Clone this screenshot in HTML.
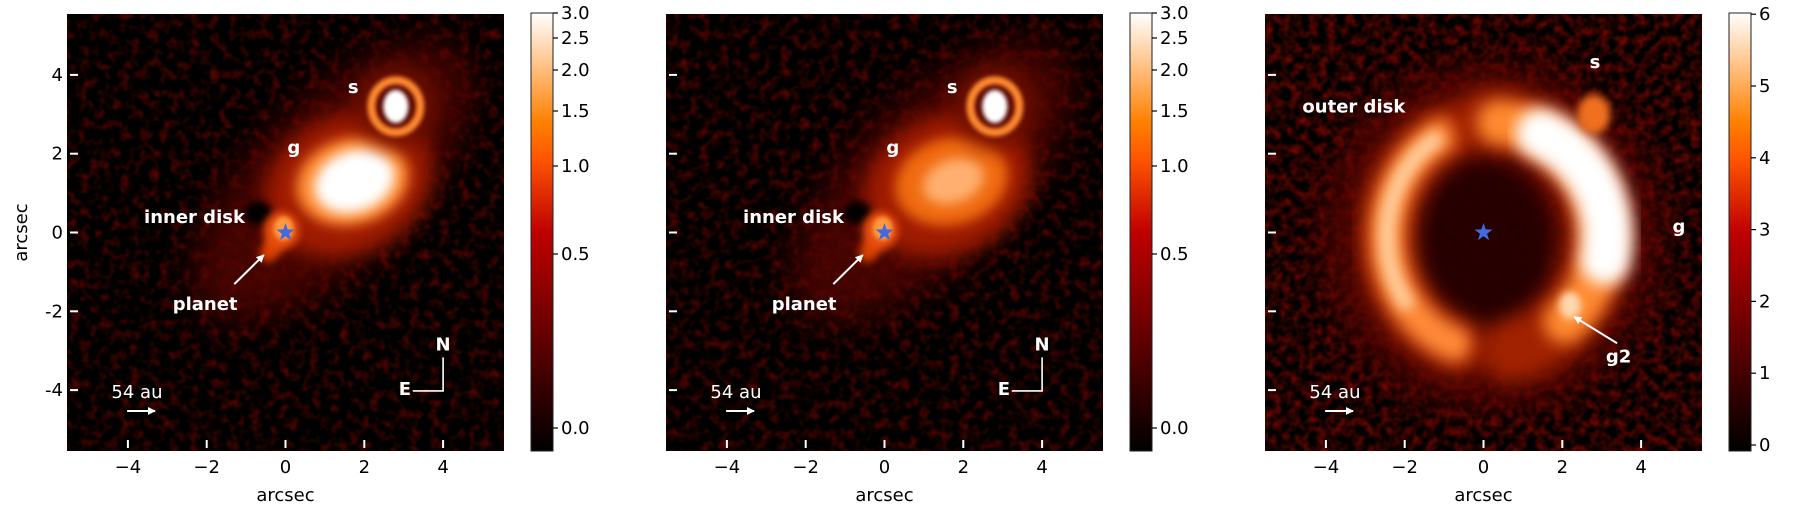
<!DOCTYPE html>
<html><head><meta charset="utf-8"><style>
html,body{margin:0;padding:0;background:#fff;}
svg{display:block;font-family:"DejaVu Sans","Liberation Sans",sans-serif;}
svg *{color-interpolation-filters:sRGB;}
</style></head><body>
<svg id="fig" width="1816" height="512" xmlns="http://www.w3.org/2000/svg">
<defs>
<linearGradient id="heat" x1="0" y1="1" x2="0" y2="0">
<stop offset="0" stop-color="#000"/><stop offset="0.333" stop-color="#800000"/><stop offset="0.5" stop-color="#bf0000"/><stop offset="0.667" stop-color="#ff5500"/><stop offset="0.75" stop-color="#ff8000"/><stop offset="0.833" stop-color="#ffaa55"/><stop offset="0.9" stop-color="#ffcc99"/><stop offset="1" stop-color="#fff"/>
</linearGradient>
<filter id="nz0" x="0" y="0" width="100%" height="100%" color-interpolation-filters="sRGB"><feTurbulence type="fractalNoise" baseFrequency="0.1" numOctaves="2" seed="3"/><feColorMatrix type="matrix" values="0.75 0 0 0 -0.34  0.03 0 0 0 -0.01  0 0 0 0 0  0 0 0 0 1"/></filter>
<filter id="nz1" x="0" y="0" width="100%" height="100%" color-interpolation-filters="sRGB"><feTurbulence type="fractalNoise" baseFrequency="0.1" numOctaves="2" seed="8"/><feColorMatrix type="matrix" values="0.75 0 0 0 -0.33  0.03 0 0 0 -0.01  0 0 0 0 0  0 0 0 0 1"/></filter>
<filter id="nz2" x="0" y="0" width="100%" height="100%" color-interpolation-filters="sRGB"><feTurbulence type="fractalNoise" baseFrequency="0.11" numOctaves="2" seed="5"/><feColorMatrix type="matrix" values="0.85 0 0 0 -0.3  0.04 0 0 0 -0.01  0 0 0 0 0  0 0 0 0 1"/></filter>
<filter id="b2" x="-50%" y="-50%" width="200%" height="200%"><feGaussianBlur stdDeviation="2"/></filter>
<filter id="b4" x="-50%" y="-50%" width="200%" height="200%"><feGaussianBlur stdDeviation="4"/></filter>
<filter id="b6" x="-50%" y="-50%" width="200%" height="200%"><feGaussianBlur stdDeviation="6"/></filter>
<filter id="b8" x="-50%" y="-50%" width="200%" height="200%"><feGaussianBlur stdDeviation="8"/></filter>
<filter id="b10" x="-50%" y="-50%" width="200%" height="200%"><feGaussianBlur stdDeviation="10"/></filter>
<filter id="b18" x="-50%" y="-50%" width="200%" height="200%"><feGaussianBlur stdDeviation="18"/></filter>
<clipPath id="c0"><rect x="67" y="14" width="437" height="437"/></clipPath>
<clipPath id="c1"><rect x="666" y="14" width="437" height="437"/></clipPath>
<clipPath id="c2"><rect x="1265" y="14" width="437" height="437"/></clipPath>
<marker id="ah" viewBox="0 0 10 10" refX="9" refY="5" markerWidth="4" markerHeight="4" orient="auto"><path d="M0,0 L10,5 L0,10 z" fill="#fff"/></marker>
</defs>
</svg>
<script>
const NS='http://www.w3.org/2000/svg';
const svg=document.getElementById('fig');
const xTicks=[-4,-2,0,2,4];
const yTicks=[4,2,0,-2,-4];
const yTickLabels=['4','2','0','-2','-4'];
const xTickLabels=['\u22124','\u22122','0','2','4'];
const cb1Vals=['3.0','2.5','2.0','1.5','1.0','0.5','0.0'];
const cb1Pix=[13,38,70,111,166,254,428];
const cb3Vals=[6,5,4,3,2,1,0];
const panelLeft=[67,666,1265];
const PT=14, PB=451, PW=437, S=39.4;
function X(p,x){return panelLeft[p]+218.5+S*x;}
function Y(y){return 232.5-S*y;}
function mk(tag,attrs,parent){const e=document.createElementNS(NS,tag);for(const k in attrs)e.setAttribute(k,attrs[k]);(parent||svg).appendChild(e);return e;}
function ell(p,g,cx,cy,rx,ry,rot,fill,filt,op){const e=mk('ellipse',{cx:X(p,cx),cy:Y(cy),rx:rx*S,ry:ry*S,fill:fill,opacity:op==null?1:op,transform:'rotate('+rot+' '+X(p,cx)+' '+Y(cy)+')'},g);if(filt)e.setAttribute('filter','url(#'+filt+')');return e;}
function arcPts(p,cx,cy,rx,ry,a0,a1){let s=[];const n=60;for(let i=0;i<=n;i++){const a=(a0+(a1-a0)*i/n)*Math.PI/180;s.push(X(p,cx+rx*Math.cos(a)).toFixed(1)+','+Y(cy+ry*Math.sin(a)).toFixed(1));}return s.join(' ');}
function arc(p,g,cx,cy,rx,ry,a0,a1,col,w,filt,op){const e=mk('polyline',{points:arcPts(p,cx,cy,rx,ry,a0,a1),fill:'none',stroke:col,'stroke-width':w,'stroke-linecap':'round',opacity:op==null?1:op},g);if(filt)e.setAttribute('filter','url(#'+filt+')');return e;}
function txt(x,y,s,attrs,parent){const e=mk('text',Object.assign({x:x,y:y,fill:'#fff','font-size':'17'},attrs),parent);e.textContent=s;return e;}
function star(p,g){let pts=[];for(let i=0;i<10;i++){const r=i%2?3.8:9.5;const a=-Math.PI/2+i*Math.PI/5;pts.push((X(p,0)+r*Math.cos(a)).toFixed(1)+','+(Y(0)+r*Math.sin(a)).toFixed(1));}const e=mk('polygon',{points:pts.join(' '),fill:'#4169e1'},g);return e;}

for(let p=0;p<3;p++){
  const g=mk('g',{'clip-path':'url(#c'+p+')'});
  
  
  const bg=mk('rect',{x:panelLeft[p],y:PT,width:PW,height:PB-PT,fill:'#000',filter:'url(#nz'+p+')'},g);
  
  
  if(p<2){
    const bright=p===0;
    const glow=ell(p,g,1.2,1.3,4.6,2.0,-45,'#5a0500','b18',0.75);
    
    
    const gh=ell(p,g,1.6,1.2,2.2,1.75,-25,'#b02000','b10',0.85);
    
    
    const gm=ell(p,g,1.7,1.3,1.45,1.1,-15,bright?'#ff8a30':'#f06a10','b6');
    
    
    const gc=ell(p,g,1.75,1.3,bright?1.05:0.8,bright?0.78:0.55,-20,bright?'#ffffff':'#ffb070','b6');
    
    
    const sh=ell(p,g,2.8,3.2,1.05,1.05,0,'#701000','b10',0.9);
    
    
    const sin=ell(p,g,2.8,3.2,0.5,0.55,0,'#5a0800','b2');
    
    
    const sr=mk('ellipse',{cx:X(p,2.8),cy:Y(3.2),rx:0.62*S,ry:0.66*S,fill:'none',stroke:'#ff8a30','stroke-width':8,filter:'url(#b2)'},g);
    
    
    const sc=ell(p,g,2.8,3.2,0.32,0.42,0,'#ffffff','b2');
    
    
    const dk=ell(p,g,-0.7,0.5,0.35,0.3,0,'#000','b4');
    
    
    const it=ell(p,g,-0.35,-0.4,0.25,0.38,30,'#d84000','b4');
    
    
    const id=ell(p,g,-0.1,0.05,0.45,0.48,0,'#e85010','b4');
    
    
    const ic=ell(p,g,-0.05,0.1,0.25,0.3,0,'#ff9a40','b2');
    
    
  } else {
    const og=ell(p,g,0.2,-0.1,4.3,4.4,0,'#5a0500','b18',0.8);
    
    
    const cav=ell(p,g,0.0,-0.35,1.75,2.2,0,'#200000','b10',0.85);
    
    
    const lg=arc(p,g,0.15,-0.1,2.6,2.9,116,252,'#b02800',56,'b10',0.9);
    
    
    const la=arc(p,g,0.15,-0.1,2.6,2.9,118,250,'#ff8a38',34,'b8');
    
    
    const li=arc(p,g,0.15,-0.1,2.6,2.9,122,215,'#ffd0a0',16,'b6');
    
    
    const rg=arc(p,g,0.15,-0.1,2.75,2.95,92,-78,'#b02800',64,'b10',0.85);
    
    
    const ra=arc(p,g,0.2,-0.1,2.8,2.9,86,-48,'#ff8a30',44,'b8');
    
    
    const rw=arc(p,g,0.3,-0.1,2.85,2.85,66,-12,'#ffffff',50,'b8');
    
    
    const g2=ell(p,g,2.2,-1.85,0.28,0.35,0,'#ffd8b0','b4');
    
    
    const sb=ell(p,g,2.8,3.0,0.42,0.5,0,'#f07020','b4');
    
    
  }
  const st=star(p,g);
  
  
  xTicks.forEach((v,i)=>{
    const t=mk('line',{x1:X(p,v),x2:X(p,v),y1:PB-11,y2:PB-3,stroke:'#fff','stroke-width':2});
    
    
    const l=txt(X(p,v),473,xTickLabels[i],{fill:'#000','text-anchor':'middle','font-size':'18'});
    
    
  });
  yTicks.forEach((v,i)=>{
    const t=mk('line',{x1:panelLeft[p]+3,x2:panelLeft[p]+11,y1:Y(v),y2:Y(v),stroke:'#fff','stroke-width':2});
    
    
    if(p===0){
      const l=txt(panelLeft[p]-4,Y(v)+6,yTickLabels[i],{fill:'#000','text-anchor':'end','font-size':'18'});
      
      
    }
  });
  const xl=txt(panelLeft[p]+218.5,501,'arcsec',{fill:'#000','text-anchor':'middle','font-size':'18'});
  
  
  const sbt=txt(X(p,-3.77),398,'54 au',{'text-anchor':'middle','font-size':'18'});
  
  
  const sba=mk('line',{x1:X(p,-4.02),x2:X(p,-3.31),y1:Y(-4.53),y2:Y(-4.53),stroke:'#fff','stroke-width':2,'marker-end':'url(#ah)'});
  
  
  const cx=panelLeft[p]+464;
  const cb=mk('rect',{x:cx,y:13,width:22,height:438,fill:'url(#heat)',stroke:'#222','stroke-width':1});
  
  
  const vals=p<2?cb1Vals:cb3Vals;
  vals.forEach((v,i)=>{
    const yy=p<2?cb1Pix[i]:445-71.8*v;
    const t=mk('line',{x1:cx+22,x2:cx+27,y1:yy,y2:yy,stroke:'#000','stroke-width':1.2});
    
    
    const l=txt(cx+30,yy+6,String(v),{fill:'#000','font-size':'18'});
    
    
  });
}
const yl=txt(0,0,'arcsec',{fill:'#000','text-anchor':'middle','font-size':'18',transform:'translate(27,232.5) rotate(-90)'});



const B={'font-weight':'bold','text-anchor':'middle','font-size':'18'};
for(let p=0;p<2;p++){
  const a=txt(X(p,1.72),Y(3.54),'s',B);
  const b=txt(X(p,0.21),Y(2.0),'g',B);
  const c=txt(X(p,-2.31),Y(0.24),'inner disk',B);
  const d=txt(X(p,-2.04),Y(-1.97),'planet',B);
  const e=mk('line',{x1:X(p,-1.3),y1:Y(-1.31),x2:X(p,-0.55),y2:Y(-0.57),stroke:'#fff','stroke-width':2,'marker-end':'url(#ah)'});
  
  
  const f=txt(X(p,4.0),Y(-3.0),'N',B);
  const h=txt(X(p,3.03),Y(-4.12),'E',B);
  const k=mk('polyline',{points:X(p,4.0)+','+Y(-3.17)+' '+X(p,4.0)+','+Y(-4.02)+' '+X(p,3.23)+','+Y(-4.02),fill:'none',stroke:'#fff','stroke-width':1.6});
  
  
}
const p3=2;
const o1=txt(X(p3,-3.29),Y(3.04),'outer disk',B);
const o2=txt(X(p3,2.83),Y(4.17),'s',B);
const o3=txt(X(p3,4.96),Y(0.0),'g',B);
const o4=txt(X(p3,3.43),Y(-3.3),'g2',B);
const o5=mk('line',{x1:X(p3,3.39),y1:Y(-2.81),x2:X(p3,2.3),y2:Y(-2.14),stroke:'#fff','stroke-width':2,'marker-end':'url(#ah)'});


</script>
</body></html>
